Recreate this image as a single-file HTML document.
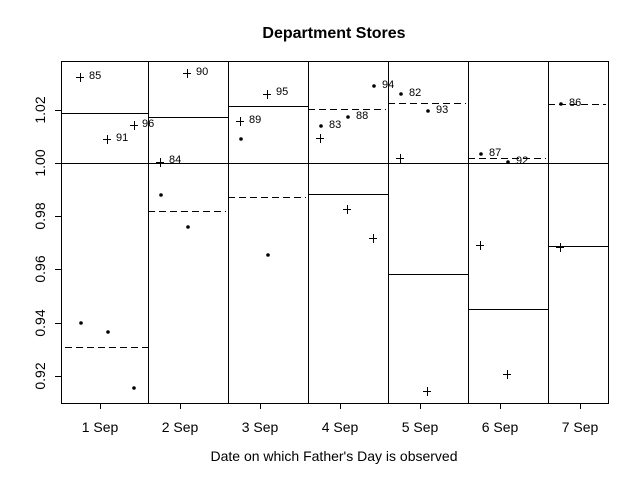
<!DOCTYPE html>
<html><head><style>body{margin:0;background:#fff}svg{display:block}</style></head><body>
<svg width="640" height="480" xmlns="http://www.w3.org/2000/svg" font-family="Liberation Sans, Arial, sans-serif">
<rect width="640" height="480" fill="#fff"/>
<text x="334" y="38" text-anchor="middle" font-size="16" font-weight="bold">Department Stores</text>
<g stroke="#000" stroke-width="1" fill="none">
<rect x="61.5" y="61.5" width="547" height="342"/>
<path d="M148.5 61V403M228.5 61V403M308.5 61V403M388.5 61V403M468.5 61V403M548.5 61V403"/>
<path d="M61 163.5H608"/>
<path d="M61 113.5H148M148 117.5H228M228 106.5H308M308 194.5H388M388 274.5H468M468 309.5H548M548 246.5H608"/>
<g stroke-dasharray="7,4">
<path d="M65 347.5H148M148 211.5H226M228 197.5H306M308 109.5H386M388 103.5H466M468 158.5H546M548 104.5H606"/>
</g>
<path d="M55 110.5H61M55 163.5H61M55 216.5H61M55 269.5H61M55 323.5H61M55 376.5H61"/>
<path d="M100.5 403V409M180.5 403V409M260.5 403V409M340.5 403V409M420.5 403V409M500.5 403V409M580.5 403V409"/>
<g id="plus">
<path d="M76 77.5h8M80.5 73v9"/>
<path d="M103 139.5h8M107.5 135v9"/>
<path d="M130 125.5h8M134.5 121v9"/>
<path d="M156 162.5h8M160.5 158v9"/>
<path d="M183 73.5h8M187.5 69v9"/>
<path d="M236 121.5h8M240.5 117v9"/>
<path d="M263 94.5h8M267.5 90v9"/>
<path d="M316 138.5h8M320.5 134v9"/>
<path d="M343 209.5h8M347.5 205v9"/>
<path d="M369 238.5h8M373.5 234v9"/>
<path d="M396 158.5h8M400.5 154v9"/>
<path d="M423 391.5h8M427.5 387v9"/>
<path d="M476 245.5h8M480.5 241v9"/>
<path d="M503 374.5h8M507.5 370v9"/>
<path d="M556 247.5h8M560.5 243v9"/>
</g>
</g>
<g fill="#000">
<circle cx="81" cy="323" r="1.8"/><circle cx="108" cy="332" r="1.8"/><circle cx="134" cy="388" r="1.8"/>
<circle cx="161" cy="195" r="1.8"/><circle cx="188" cy="227" r="1.8"/>
<circle cx="241" cy="139" r="1.8"/><circle cx="268" cy="255" r="1.8"/>
<circle cx="321" cy="126" r="1.8"/><circle cx="348" cy="117" r="1.8"/><circle cx="374" cy="86" r="1.8"/>
<circle cx="401" cy="94" r="1.8"/><circle cx="428" cy="111" r="1.8"/>
<circle cx="481" cy="154" r="1.8"/><circle cx="508" cy="162" r="1.8"/>
<circle cx="561" cy="104" r="1.8"/>
</g>
<g font-size="11" fill="#000">
<text x="89" y="79">85</text><text x="116" y="141">91</text><text x="142" y="127">96</text>
<text x="169" y="163">84</text><text x="196" y="75">90</text>
<text x="249" y="123">89</text><text x="276" y="95">95</text>
<text x="329" y="128">83</text><text x="356" y="119">88</text><text x="382" y="88">94</text>
<text x="409" y="96">82</text><text x="436" y="113">93</text>
<text x="489" y="156">87</text><text x="516" y="164">92</text>
<text x="569" y="106">86</text>
</g>
<g font-size="14" fill="#000" text-anchor="middle">
<text transform="translate(45,110) rotate(-90)">1.02</text>
<text transform="translate(45,163) rotate(-90)">1.00</text>
<text transform="translate(45,216) rotate(-90)">0.98</text>
<text transform="translate(45,269) rotate(-90)">0.96</text>
<text transform="translate(45,323) rotate(-90)">0.94</text>
<text transform="translate(45,376) rotate(-90)">0.92</text>
<text x="100" y="432">1 Sep</text><text x="180" y="432">2 Sep</text><text x="260" y="432">3 Sep</text>
<text x="340" y="432">4 Sep</text><text x="420" y="432">5 Sep</text><text x="500" y="432">6 Sep</text>
<text x="580" y="432">7 Sep</text>
<text x="334" y="461">Date on which Father's Day is observed</text>
</g>
</svg>
</body></html>
